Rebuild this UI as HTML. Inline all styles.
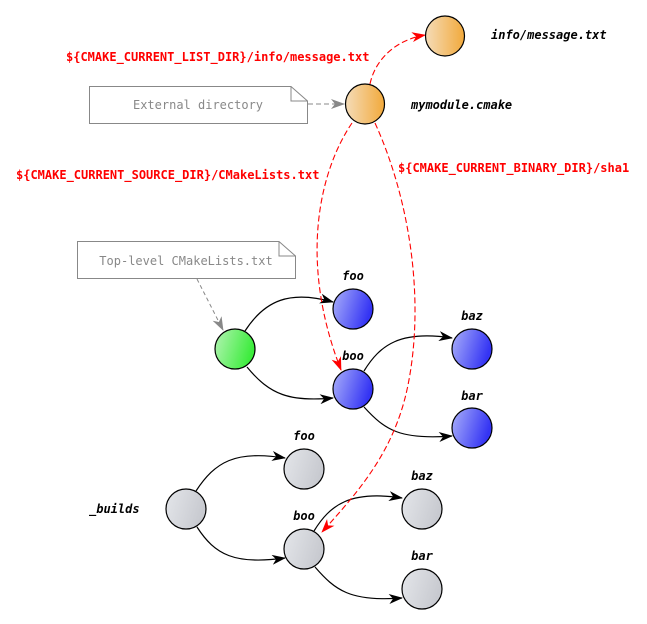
<!DOCTYPE html>
<html><head><meta charset="utf-8"><style>
html,body{margin:0;padding:0;background:#fff;}
svg{display:block;}
.lbl{font-family:"DejaVu Sans Mono","Liberation Mono",monospace;font-weight:bold;font-style:italic;font-size:12px;fill:#000;}
.red{font-family:"DejaVu Sans Mono","Liberation Mono",monospace;font-weight:bold;font-size:12px;fill:#f00;}
.note{font-family:"DejaVu Sans Mono","Liberation Mono",monospace;font-size:12px;fill:#888;}
</style></head><body>
<svg width="647" height="624" viewBox="0 0 647 624" xmlns="http://www.w3.org/2000/svg">
<defs>
<linearGradient id="go" x1="0" y1="0" x2="1" y2="0"><stop offset="0" stop-color="#f4dcb8"/><stop offset="1" stop-color="#f2a93b"/></linearGradient>
<linearGradient id="gg" x1="0" y1="0" x2="1" y2="0.3"><stop offset="0" stop-color="#b4f4b4"/><stop offset="1" stop-color="#3cec3c"/></linearGradient>
<linearGradient id="gb" x1="0" y1="0" x2="1" y2="0.3"><stop offset="0" stop-color="#aab0fa"/><stop offset="1" stop-color="#3434f4"/></linearGradient>
<linearGradient id="gy" x1="0" y1="0" x2="1" y2="0.3"><stop offset="0" stop-color="#e4e6ea"/><stop offset="1" stop-color="#c8cad0"/></linearGradient>
<marker id="ab" markerWidth="14" markerHeight="10" refX="13" refY="5" orient="auto" markerUnits="userSpaceOnUse"><path d="M0,0 L14,5 L0,10 L4,5 Z" fill="#000"/></marker>
<marker id="ar" markerWidth="14" markerHeight="10" refX="13" refY="5" orient="auto" markerUnits="userSpaceOnUse"><path d="M0,0 L14,5 L0,10 L4,5 Z" fill="#f00"/></marker>
<marker id="ag" markerWidth="14" markerHeight="10" refX="13" refY="5" orient="auto" markerUnits="userSpaceOnUse"><path d="M0,0 L14,5 L0,10 L4,5 Z" fill="#888"/></marker>
</defs>

<path d="M89.5,86.5 H291 L307.5,101 V123.5 H89.5 Z" fill="#fff" stroke="#888"/>
<path d="M291,86.5 V101 H307.5" fill="none" stroke="#888"/>
<text class="note" x="198" y="109" text-anchor="middle">External directory</text>
<path d="M77.5,241.5 H279 L295.5,256 V278.5 H77.5 Z" fill="#fff" stroke="#888"/>
<path d="M279,241.5 V256 H295.5" fill="none" stroke="#888"/>
<text class="note" x="186" y="265" text-anchor="middle">Top-level CMakeLists.txt</text>

<path d="M308,104 H344" stroke="#888" stroke-dasharray="5,3" fill="none" marker-end="url(#ag)"/>
<path d="M197,279 L223,330" stroke="#888" stroke-dasharray="4,3" fill="none" marker-end="url(#ag)"/>

<g fill="none" stroke="#000" stroke-width="1.2">
<path d="M245,331 C265,300 290,290 333,302" marker-end="url(#ab)"/>
<path d="M247,367 C270,395 290,402 333,398" marker-end="url(#ab)"/>
<path d="M364,371 C380,345 400,330 452,338" marker-end="url(#ab)"/>
<path d="M364,407 C385,430 400,440 452,436" marker-end="url(#ab)"/>
<path d="M196,491 C215,462 235,450 285,458" marker-end="url(#ab)"/>
<path d="M197,527 C215,555 235,565 285,558" marker-end="url(#ab)"/>
<path d="M314,531 C330,505 350,490 402,498" marker-end="url(#ab)"/>
<path d="M315,567 C335,590 350,602 402,598" marker-end="url(#ab)"/>
</g>

<g fill="none" stroke="#f00" stroke-dasharray="6,3" stroke-width="1.1">
<path d="M370,84 C375,60 395,40 425,35" marker-end="url(#ar)"/>
<path d="M352,123 C320,170 298,260 341,370" marker-end="url(#ar)"/>
<path d="M375,123 C410,200 425,300 408,385 C395,450 360,490 322,532" marker-end="url(#ar)"/>
</g>

<g stroke="#000" stroke-width="1.2">
<ellipse cx="445" cy="36" rx="19.5" ry="20" fill="url(#go)"/>
<ellipse cx="365" cy="104" rx="19.5" ry="20" fill="url(#go)"/>
<circle cx="235" cy="349" r="20" fill="url(#gg)"/>
<circle cx="353" cy="309" r="20" fill="url(#gb)"/>
<circle cx="353" cy="389" r="20" fill="url(#gb)"/>
<circle cx="472" cy="349" r="20" fill="url(#gb)"/>
<circle cx="472" cy="428" r="20" fill="url(#gb)"/>
<circle cx="186" cy="509" r="20" fill="url(#gy)"/>
<circle cx="304" cy="469" r="20" fill="url(#gy)"/>
<circle cx="304" cy="549" r="20" fill="url(#gy)"/>
<circle cx="422" cy="509" r="20" fill="url(#gy)"/>
<circle cx="422" cy="589" r="20" fill="url(#gy)"/>
</g>

<text class="lbl" x="491" y="39">info/message.txt</text>
<text class="lbl" x="411" y="109">mymodule.cmake</text>
<text class="lbl" x="353" y="280" text-anchor="middle">foo</text>
<text class="lbl" x="353" y="360" text-anchor="middle">boo</text>
<text class="lbl" x="472" y="320" text-anchor="middle">baz</text>
<text class="lbl" x="472" y="400" text-anchor="middle">bar</text>
<text class="lbl" x="304" y="440" text-anchor="middle">foo</text>
<text class="lbl" x="304" y="520" text-anchor="middle">boo</text>
<text class="lbl" x="422" y="480" text-anchor="middle">baz</text>
<text class="lbl" x="422" y="560" text-anchor="middle">bar</text>
<text class="lbl" x="89" y="513">_builds</text>

<text class="red" x="66" y="61">${CMAKE_CURRENT_LIST_DIR}/info/message.txt</text>
<text class="red" x="16" y="179">${CMAKE_CURRENT_SOURCE_DIR}/CMakeLists.txt</text>
<text class="red" x="398" y="172">${CMAKE_CURRENT_BINARY_DIR}/sha1</text>
</svg>
</body></html>
